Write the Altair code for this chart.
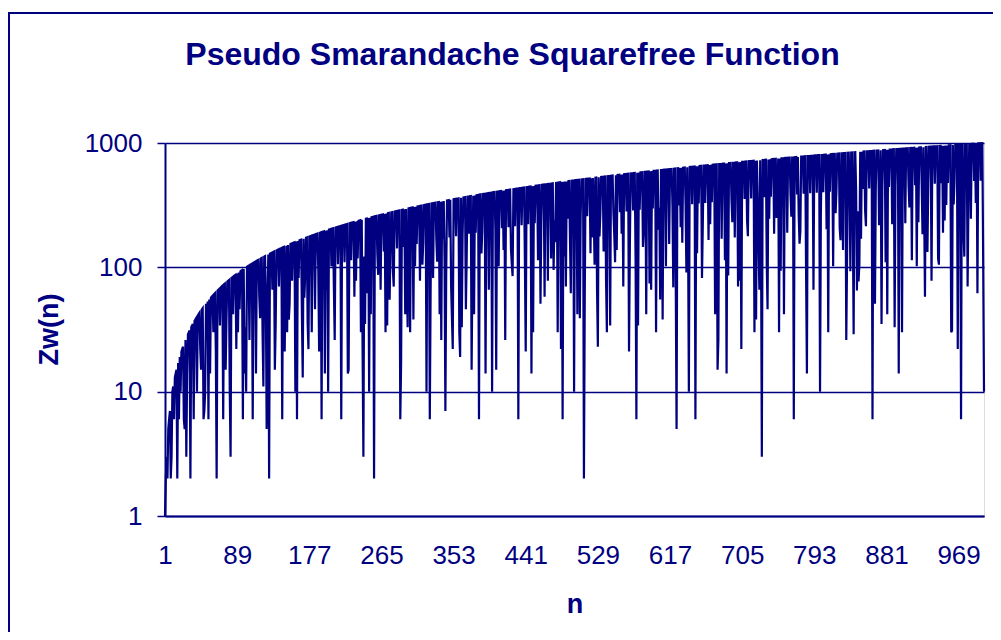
import altair as alt
import pandas as pd

NAVY = "#000080"
FONT = "Liberation Sans"

# n = 1 .. 1000
n_values = list(range(1, 1001))


def zw(n):
    # Pseudo Smarandache squarefree function: smallest m with n | m^n,
    # i.e. the product of the distinct primes dividing n.
    m, p, r = n, 2, 1
    while p * p <= m:
        if m % p == 0:
            r *= p
            while m % p == 0:
                m //= p
        p += 1
    if m > 1:
        r *= m
    return r


zw_values = [zw(n) for n in n_values]

x_tick_labels = [1, 89, 177, 265, 353, 441, 529, 617, 705, 793, 881, 969]
y_tick_values = [1, 10, 100, 1000]

df = pd.DataFrame({"n": n_values, "zw": zw_values})

line = alt.Chart(df).mark_line(color=NAVY, strokeWidth=2.2).encode(
    x=alt.X(
        "n:Q",
        scale=alt.Scale(domain=[1, 1000], nice=False, zero=False),
        axis=alt.Axis(
            values=x_tick_labels,
            ticks=False,
            tickSize=0,
            grid=False,
            domainColor=NAVY,
            domainWidth=2,
            labelFont=FONT,
            labelFontSize=26,
            labelColor=NAVY,
            labelPadding=26,
            labelFlush=False,
            labelOverlap=False,
            title="n",
            titleFont=FONT,
            titleFontSize=27,
            titleFontWeight="bold",
            titleColor=NAVY,
            titleBaseline="alphabetic",
            titleY=96,
        ),
    ),
    y=alt.Y(
        "zw:Q",
        scale=alt.Scale(type="log", domain=[1, 1000], nice=False),
        axis=alt.Axis(
            values=y_tick_values,
            format="d",
            tickColor=NAVY,
            tickSize=8,
            tickWidth=1.5,
            grid=True,
            gridColor=NAVY,
            gridWidth=1.5,
            domainColor=NAVY,
            domainWidth=2,
            labelFont=FONT,
            labelFontSize=26,
            labelColor=NAVY,
            labelPadding=15,
            labelOverlap=False,
            title="Zw(n)",
            titleFont=FONT,
            titleFontSize=27,
            titleFontWeight="bold",
            titleColor=NAVY,
            titleAngle=270,
            titleAlign="center",
            titleBaseline="middle",
            titleX=-116,
            titleY=186,
        ),
    ),
)

frame = alt.Chart(pd.DataFrame({"a": [0]})).mark_rect(
    fill=None, stroke=NAVY, strokeWidth=2
).encode(
    x=alt.value(-156), x2=alt.value(900), y=alt.value(-130), y2=alt.value(700)
)

chart = (
    alt.layer(frame, line)
    .properties(
        width=819,
        height=373,
        padding={"left": 157, "top": 135, "right": 9, "bottom": 116},
        autosize=alt.AutoSizeParams(type="none"),
        title=alt.Title(
            "Pseudo Smarandache Squarefree Function",
            font=FONT,
            fontSize=32,
            fontWeight="bold",
            color=NAVY,
            anchor="middle",
            baseline="alphabetic",
            offset=0,
            dy=85,
            dx=-62,
        ),
    )
    .configure_view(stroke=NAVY, strokeWidth=1.5)
    .configure(background="white")
)

chart.save("out.html", embed_options={"renderer": "svg", "actions": False})
